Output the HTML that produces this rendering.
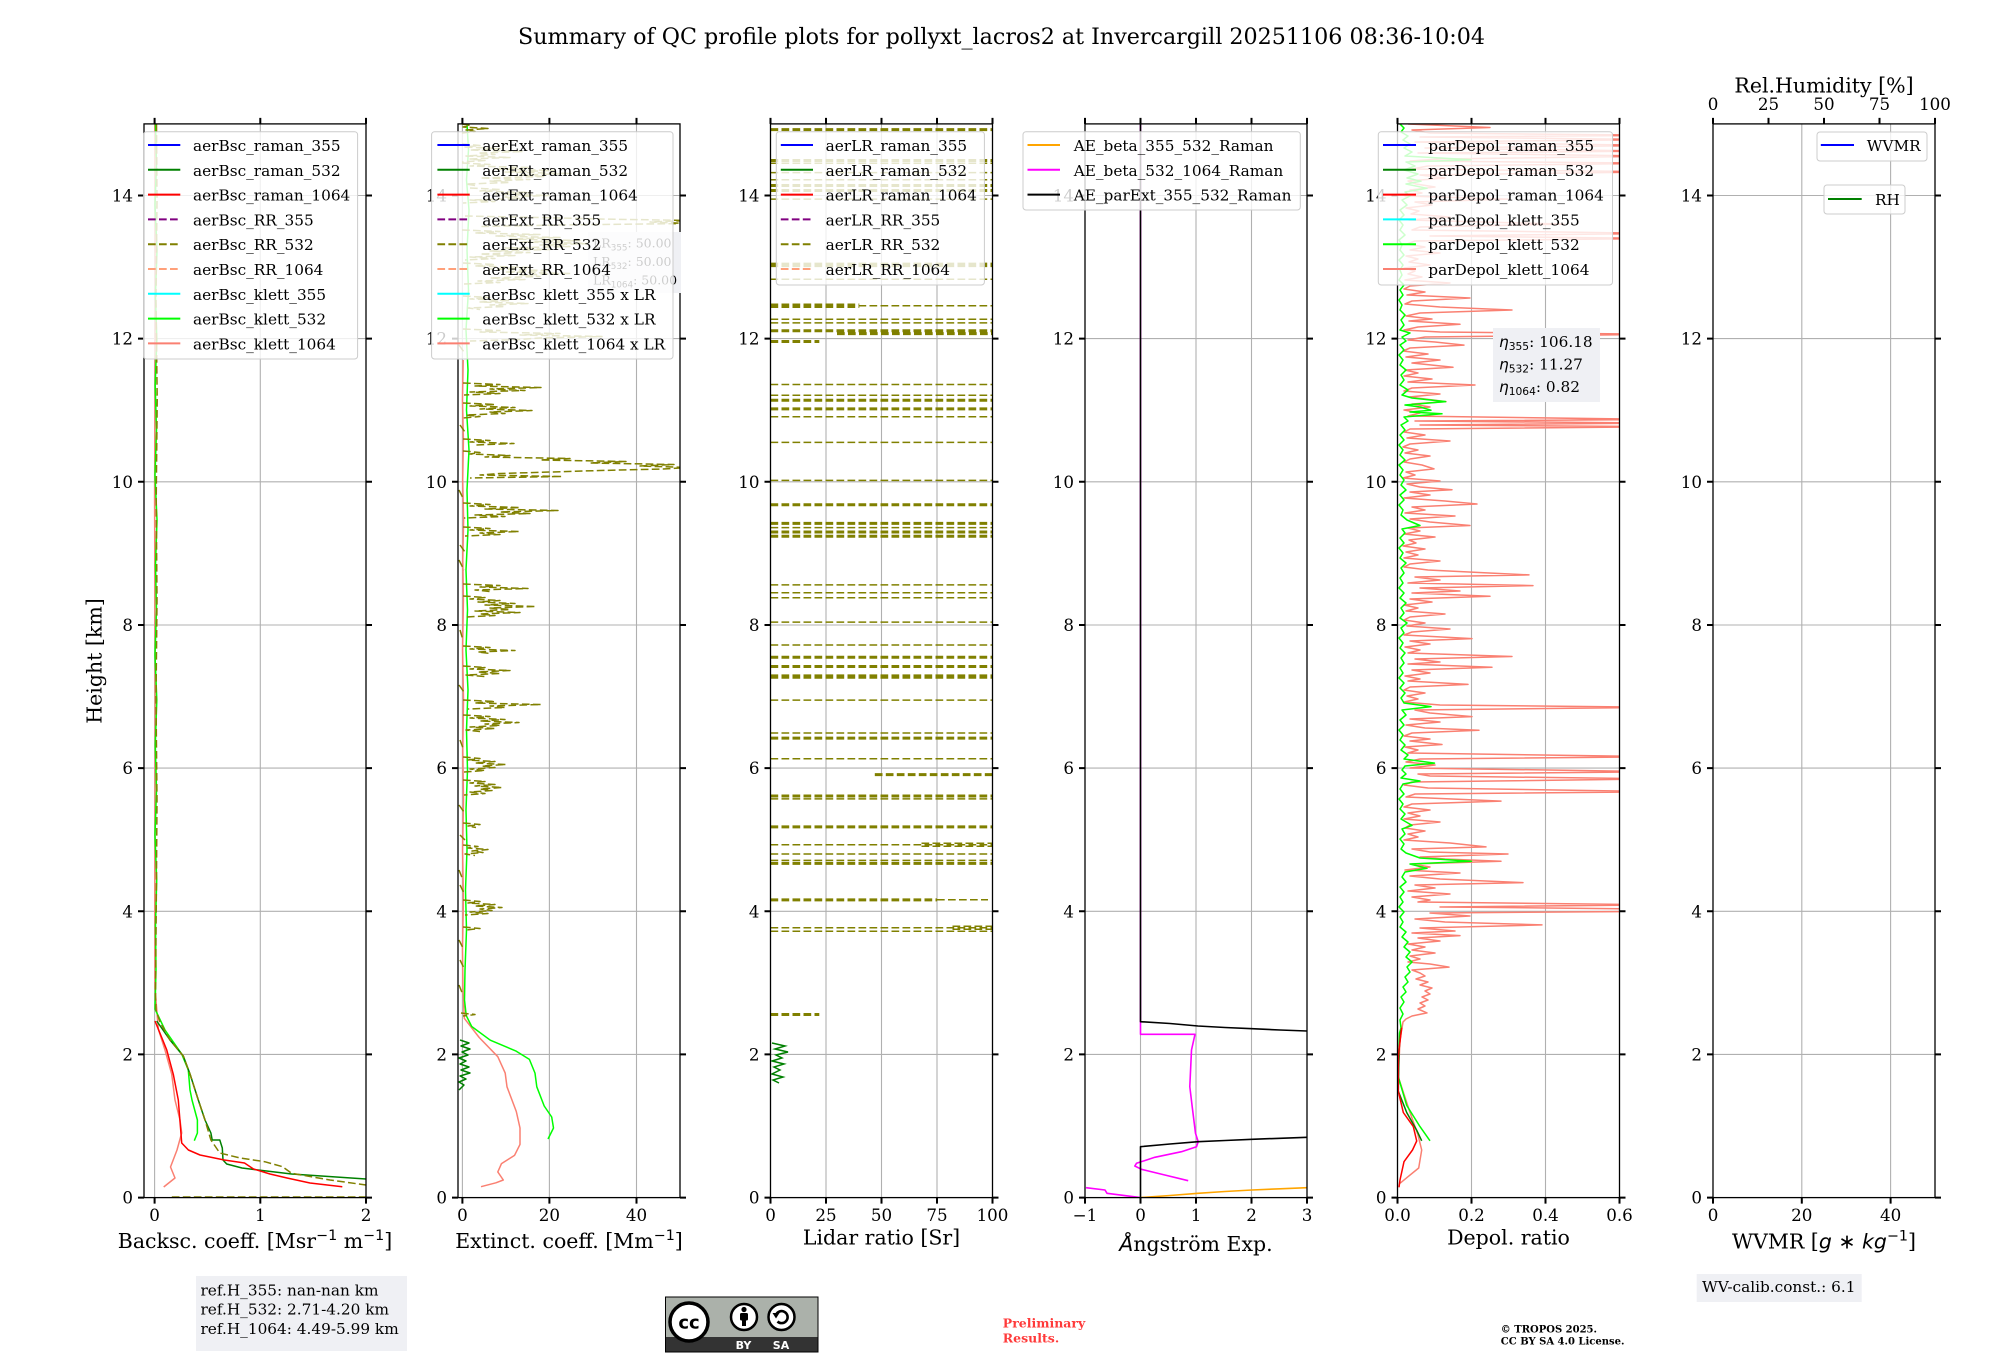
<!DOCTYPE html>
<html><head><meta charset="utf-8">
<style>
html,body{margin:0;padding:0;background:#fff;}
svg{display:block;}
text{font-family:"DejaVu Serif","Liberation Serif",serif;fill:#000;}
.sans{font-family:"DejaVu Sans","Liberation Sans",sans-serif;}
</style></head>
<body>
<svg xmlns="http://www.w3.org/2000/svg" width="2000" height="1360" viewBox="0 0 2000 1360">
<rect width="2000" height="1360" fill="#fff"/>
<defs>
<clipPath id="c1"><rect x="144" y="123.9" width="222" height="1073.7"/></clipPath>
<clipPath id="c2"><rect x="458" y="123.9" width="222" height="1073.7"/></clipPath>
<clipPath id="c3"><rect x="770.5" y="123.9" width="222" height="1073.7"/></clipPath>
<clipPath id="c4"><rect x="1085" y="123.9" width="222" height="1073.7"/></clipPath>
<clipPath id="c5"><rect x="1397.5" y="123.9" width="222" height="1073.7"/></clipPath>
<clipPath id="c6"><rect x="1713" y="123.9" width="222" height="1073.7"/></clipPath>
</defs>

<text x="518" y="44" font-size="22" textLength="967" lengthAdjust="spacingAndGlyphs">Summary of QC profile plots for pollyxt_lacros2 at Invercargill 20251106 08:36-10:04</text>

<!-- gridlines -->
<g stroke="#b0b0b0" stroke-width="1.1" fill="none">
<path d="M144,1054.4h222M144,911.3h222M144,768.1h222M144,625h222M144,481.8h222M144,338.6h222M144,195.5h222
M458,1054.4h222M458,911.3h222M458,768.1h222M458,625h222M458,481.8h222M458,338.6h222M458,195.5h222
M770.5,1054.4h222M770.5,911.3h222M770.5,768.1h222M770.5,625h222M770.5,481.8h222M770.5,338.6h222M770.5,195.5h222
M1085,1054.4h222M1085,911.3h222M1085,768.1h222M1085,625h222M1085,481.8h222M1085,338.6h222M1085,195.5h222
M1397.5,1054.4h222M1397.5,911.3h222M1397.5,768.1h222M1397.5,625h222M1397.5,481.8h222M1397.5,338.6h222M1397.5,195.5h222
M1713,1054.4h222M1713,911.3h222M1713,768.1h222M1713,625h222M1713,481.8h222M1713,338.6h222M1713,195.5h222"/>
<path d="M154.6,123.9V1197.6M260.3,123.9V1197.6"/>
<path d="M462.4,123.9V1197.6M549.4,123.9V1197.6M636.5,123.9V1197.6"/>
<path d="M826,123.9V1197.6M881.5,123.9V1197.6M937,123.9V1197.6"/>
<path d="M1140.5,123.9V1197.6M1196,123.9V1197.6M1251.5,123.9V1197.6"/>
<path d="M1471.5,123.9V1197.6M1545.5,123.9V1197.6"/>
<path d="M1801.8,123.9V1197.6M1890.6,123.9V1197.6"/>
</g>

<!-- panel 1 data -->
<g clip-path="url(#c1)" fill="none" stroke-width="1.5" stroke-linejoin="round">
<path d="M154.8,124 L155.3,300 L154.6,500 L155.2,700 L154.8,900 L155,988 L158.3,1029 L165,1050 L171.7,1074 L175,1100 L180,1120 L181.7,1133 L177,1150 L170.5,1167 L175,1178 L163.7,1187" stroke="#fa8072"/>
<path d="M155.5,124 L156.5,165 L155,205 L157,250 L155.5,295 L156.8,340 L155.2,385 L156.5,430 L155,475 L157,520 L155.5,565 L156.5,610 L155,655 L156.8,700 L155.3,745 L156.5,790 L155,835 L156.7,880 L155.5,925 L156,970 L155,1009 L165,1030 L181.7,1054 L188.3,1070 L190,1090 L192,1100 L197.4,1120 L197.4,1133 L194.3,1140.7" stroke="#00ff00"/>
<path d="M156.7,1021 L170,1040 L183.3,1056 L190,1074 L198.3,1100 L205,1120 L210.9,1133 L212.2,1140 L219.8,1140 L222.3,1148 L223,1160 L226.7,1164 L242,1168 L291.6,1174 L366,1179" stroke="#008000"/>
<path d="M156.5,124 L157,200 L156,300 L157.2,400 L156.2,500 L157,600 L156,700 L157,800 L156.3,900 L155.5,995 L156,1010 L160,1022 L170,1040 L183.3,1056 L190,1074 L198.3,1100 L205,1120 L210.9,1140 L219.8,1153 L240,1158 L264.7,1161.7 L282.6,1166.7 L291.6,1173.3 L330,1180 L366,1185" stroke="#808000" stroke-dasharray="7.7 3.3"/>
<path d="M171.8,1197 L366,1197" stroke="#808000" stroke-dasharray="7.7 3.3"/>
<path d="M155,1021 L166.7,1049.8 L173.3,1074.3 L178.3,1100 L180.7,1130 L181.7,1143 L188.4,1150 L200,1155 L224.3,1160 L244.5,1163 L253.5,1169 L270,1174 L287,1178 L310,1183 L342.3,1186.7" stroke="#ff0000"/>
</g>

<!-- panel 2 data -->
<g clip-path="url(#c2)" fill="none" stroke-width="1.5" stroke-linejoin="round">
<path d="M463.2,360 L462.5,400 L463.4,440 L462.7,480 L463.6,520 L462.8,560 L463.4,600 L462.6,650 L463.5,700 L462.8,750 L463.5,800 L462.6,850 L463.4,900 L462.5,950 L463,990 L464.3,1018.3 L479.2,1037.5 L497.8,1056.7 L505.2,1073.1 L507,1086.8 L516.3,1111.5 L520,1128 L520,1144.4 L514.5,1155.4 L501.5,1163.6 L497.8,1171.9 L503.3,1180 L495.9,1182.8 L481,1186.7" stroke="#fa8072"/>
<path d="M467,124 L468.5,150 L466.5,180 L469,210 L467,250 L468.5,290 L466,330 L468,370 L466.5,410 L469,450 L467,490 L468,530 L466,570 L467.5,610 L466,650 L468,690 L466.5,730 L467.5,770 L466,810 L467,850 L465.5,890 L466.5,930 L465,970 L464.5,1000 L466.2,1015.5 L471.7,1026.5 L490.3,1040.2 L516.3,1051.2 L529.4,1059.4 L535,1073.1 L536.8,1086.8 L544.2,1106 L551.7,1117 L553.5,1128 L548,1139" stroke="#00ff00"/>
<path d="M460,1040 L469,1043 L461,1046 L470,1049 L462,1052 L468,1055 L459,1058 L466,1061 L460,1064 L469,1067 L461,1070 L470,1073 L460,1076 L466,1079 L459,1082 L464,1085 L459,1090" stroke="#008000"/>
<path stroke="#808000" stroke-dasharray="7.7 3.3" d="
M462,124 L470,125.5 L463,127 L488,128.5 L466,130 L475,131.5 L462,133
M462,144 L480,145.5 L465,147 L500,148.5 L470,150 L523,151.5 L478,153 L495,154.5 L466,156 L510,157.5 L470,159 L485,160.5 L462,162
M462,163 L490,164.5 L470,166 L530,167.5 L495,169 L555,170.5 L505,172 L571,173.5 L520,175 L545,176.5 L480,178 L530,179.5 L490,181 L510,182.5 L466,184 L475,185.5
M470,188 L500,189.5 L480,191 L530,192.5 L495,194 L549,195.5 L505,197 L520,198.5 L470,200 L495,201.5 L463,203
M465,216 L540,217.5 L600,219 L690,220.5 L650,222 L690,223.5 L560,225 L480,226.5
M462,230 L500,231.5 L475,233 L540,234.5 L495,236 L560,237.5 L510,239 L580,240.5 L520,242 L593,243.5 L540,245 L570,246.5 L505,248 L550,249.5 L490,251 L530,252.5 L480,254 L515,255.5 L470,257 L495,258.5 L465,260
M463,263 L495,264.5 L475,266 L530,267.5 L490,269 L550,270.5 L505,272 L571,273.5 L520,275 L540,276.5 L490,278 L525,279.5 L478,281 L500,282.5 L464,284
M463,296 L490,297.5 L470,299 L510,300.5 L480,302 L528,303.5 L490,305 L505,306.5 L468,308 L480,309.5
M463,329 L500,330.5 L480,332 L560,333.5 L520,335 L602,336.5 L540,338 L520,339.5 L470,341
M463,383 L500,384.5 L475,386 L541,387.5 L490,389 L525,390.5 L470,392 L500,393.5 L464,395
M463,403 L495,404.5 L470,406 L515,407.5 L480,409 L532,410.5 L490,412 L505,413.5 L466,415 L480,416.5 L463,418
M463,439 L490,440.5 L470,442 L514,443.5 L475,445
M463,451 L480,452.5 L470,454 L510,455.5 L485,457 L570,458.5 L540,460 L626,461.5 L590,463 L674,464.5 L640,466 L690,467.5 L663,469 L600,470.5 L551,472 L500,473.5 L480,475 L562,476.5 L470,478
M463,503 L490,504.5 L470,506 L520,507.5 L485,509 L558,510.5 L500,512 L530,513.5 L475,515 L505,516.5 L464,518
M463,527 L490,528.5 L470,530 L519,531.5 L480,533 L500,534.5 L465,536
M463,584 L500,585.5 L480,587 L528,588.5 L475,590 L490,591.5
M463,596 L485,597.5 L470,599 L500,600.5 L478,602 L515,603.5 L485,605 L536,606.5 L490,608 L510,609.5 L475,611 L520,612.5 L480,614 L495,615.5 L466,617
M463,646 L490,647.5 L470,649 L515,650.5 L478,652 L490,653.5
M463,666 L485,667.5 L470,669 L510,670.5 L478,672 L500,673.5 L466,675 L485,676.5
M463,700 L495,701.5 L475,703 L541,704.5 L490,706 L505,707.5 L468,709
M463,715 L490,716.5 L470,718 L505,719.5 L480,721 L519,722.5 L485,724 L500,725.5 L470,727 L495,728.5 L466,730 L480,731.5
M463,757 L480,758.5 L468,760 L495,761.5 L475,763 L506,764.5 L482,766 L495,767.5 L470,769 L485,770.5 L464,772
M463,780 L485,781.5 L470,783 L495,784.5 L475,786 L502,787.5 L480,789 L492,790.5 L470,792 L485,793.5 L464,795
M463,823 L480,824.5 L468,826 L476,827.5
M463,845 L478,846.5 L468,848 L488,849.5 L472,851 L483,852.5 L465,854 L475,855.5
M463,900 L480,901.5 L468,903 L495,904.5 L475,906 L502,907.5 L480,909 L492,910.5 L470,912 L488,913.5 L465,915
M463,927 L480,928.5 L466,930
M461,1013 L475,1014.5 L463,1016
M459,345 L464,352 M460,425 L465,432 M459,490 L463,498 M460,545 L465,552 M459,560 L464,570 M460,630 L463,640 M459,685 L464,692 M460,740 L463,748 M459,805 L464,812 M460,835 L465,840 M459,870 L463,880 M460,885 L464,893 M459,940 L463,948 M460,960 L464,968 M459,985 L463,995"/>
</g>

<!-- panel 3 data -->
<g clip-path="url(#c3)" fill="none" stroke-width="1.5">
<path d="M772,1043 L785,1046 L775,1049 L788,1052 L776,1055 L782,1058 L772,1061 L784,1064 L774,1067 L780,1070 L772,1074 L783,1077 L773,1080 L779,1083" stroke="#008000"/>
<path stroke="#808000" stroke-dasharray="7.7 3.3" d="
M770.5,128.9H992.5M770.5,130.4H992.5M770.5,159.7H992.5M770.5,161.2H992.5M770.5,163.3H992.5M770.5,172.6H992.5M770.5,179.8H992.5M770.5,184.8H992.5M770.5,186.3H992.5M770.5,189.8H992.5M770.5,191.3H992.5M770.5,199.1H992.5
M770.5,263.4H992.5M770.5,264.9H992.5M770.5,266.4H992.5M770.5,279.3H992.5M770.5,305.7H992.5M770.5,319.3H992.5M770.5,322.9H992.5M770.5,330H992.5M770.5,331.5H992.5
M770.5,384.5H992.5M770.5,395.2H992.5M770.5,399.5H992.5M770.5,401H992.5M770.5,408.1H992.5M770.5,409.6H992.5M770.5,416.7H992.5M770.5,442.4H992.5M770.5,480.4H992.5
M770.5,504H992.5M770.5,505.5H992.5M770.5,522.6H992.5M770.5,524.1H992.5M770.5,527.6H992.5M770.5,531.2H992.5M770.5,532.7H992.5M770.5,535.5H992.5M770.5,537H992.5
M770.5,584.9H992.5M770.5,592.7H992.5M770.5,597.8H992.5M770.5,622.1H992.5M770.5,645H992.5M770.5,656.5H992.5M770.5,658H992.5M770.5,665.8H992.5M770.5,667.3H992.5M770.5,675.1H992.5M770.5,676.6H992.5M770.5,678H992.5
M770.5,700.1H992.5M770.5,733H992.5M770.5,737.4H992.5M770.5,738.9H992.5M770.5,758.8H992.5M770.5,795.3H992.5M770.5,796.8H992.5M770.5,798.9H992.5M770.5,826.1H992.5M770.5,827.6H992.5
M770.5,844.7H992.5M770.5,854H992.5M770.5,860.4H992.5M770.5,862.6H992.5M770.5,864.1H992.5M770.5,927.8H992.5M770.5,931.3H992.5
M770.5,304.2H859.3M770.5,307.2H859.3M837,332.9H992.5M837,334.4H992.5M770.5,340.8H819.3M770.5,342.3H819.3
M874.8,773.9H992.5M874.8,775.4H992.5M921.5,843.2H992.5M921.5,846.2H992.5
M770.5,899.1H937M770.5,900.6H937M937,899.8H988M952.5,926.3H992.5M952.5,929.3H992.5
M770.5,1013.7H819.3M770.5,1015.2H819.3"/>
</g>

<!-- panel 4 data -->
<g clip-path="url(#c4)" fill="none" stroke-width="1.6" stroke-linejoin="round">
<path d="M1140.5,124 L1140.5,1034.3 L1195,1034.3 L1191.5,1050 L1189.8,1086.7 L1192.2,1106.7 L1195.5,1133.3 L1198.2,1141.7 L1196.5,1146.7 L1181.5,1151.7 L1154.8,1157.3 L1136.5,1163.3 L1134.8,1166 L1141.5,1169.3 L1164.8,1175 L1188.2,1180.7" stroke="#ff00ff"/>
<path d="M1086,1187.7 L1105,1190 L1107,1193.3 L1140.5,1197.6" stroke="#ff00ff"/>
<path d="M1140.5,1197.6 L1170,1195.5 L1198,1193.3 L1225,1191.5 L1252,1190 L1280,1188.8 L1307,1187.7" stroke="#ffa500"/>
<path d="M1140.5,124 L1140.5,1021.7 L1170,1023.5 L1198,1026 L1225,1027.5 L1252,1028.7 L1280,1030 L1307,1031" stroke="#000"/>
<path d="M1140.5,1197.6 L1140.5,1146.7 L1170,1144 L1198,1141.7 L1225,1140.5 L1252,1139.3 L1307,1137.3" stroke="#000"/>
</g>

<!-- panel 5 data -->
<g clip-path="url(#c5)" fill="none" stroke-width="1.5" stroke-linejoin="round">
<path stroke="#fa8072" d="M1408,124 L1490,127.5 L1412,130 L1430,133 L1660,135.3 L1420,137 L1660,139.6 L1415,142 L1660,145.4 L1425,148 L1660,151.1 L1418,153 L1660,156.1 L1440,159 L1410,161 L1660,163.3 L1428,166 L1412,169 L1660,171.9 L1420,175 L1445,178 L1408,181 L1416,184 L1435,187 L1410,190 L1422,193 L1405,196 L1508,199.1 L1415,202 L1432,205 L1406,208 L1419,211 L1411,214 L1450,217 L1409,220 L1564,224.1 L1420,227 L1412,230 L1660,233.4 L1430,236 L1660,238.4 L1415,241 L1407,244 L1425,247 L1410,250 L1440,253 L1406,256 L1418,259 L1409,262 L1430,265 L1404,268 L1415,271 L1408,274 L1422,277 L1405,280 L1450,283 L1410,286 L1404,289 L1425,292 L1407,295 L1470,298 L1412,301 L1405,304 L1440,307 L1512,310 L1420,313 L1406,316 L1432,319 L1409,321 L1460,324.3 L1418,327 L1404,330 L1440,332 L1660,334.3 L1425,337 L1408,340 L1435,342 L1464,345.1 L1410,348 L1403,351 L1428,354 L1406,357 L1440,360 L1412,363 L1453,367.3 L1405,370 L1418,373 L1404,376 L1432,379 L1408,382 L1475,385 L1412,388 L1404,391 L1440,394 L1409,397 L1446,401.6 L1412,404 L1430,407 L1404,410 L1420,413 L1408,416 L1660,419.5 L1415,421 L1660,423.1 L1420,425 L1660,426.7 L1410,429 L1404,432 L1425,435 L1407,438 L1450,441 L1410,444 L1403,447 L1418,450 L1405,453 L1430,456 L1410,459 L1404,462 L1422,465 L1434,468.9 L1406,472 L1415,475 L1403,478 L1440,481 L1407,484 L1420,487 L1452,489.7 L1410,492 L1430,495 L1404,498 L1445,501 L1477,504 L1412,507 L1425,510 L1405,513 L1455,516 L1410,519 L1430,522 L1470,525.5 L1408,528 L1420,531 L1404,534 L1435,537 L1409,540 L1416,543 L1403,546 L1425,549 L1406,552 L1418,555 L1404,558 L1440,561 L1410,564 L1404,567 L1428,570 L1529,574.9 L1415,577 L1440,580 L1408,583 L1533,585.6 L1420,588 L1460,591 L1412,593 L1490,596.3 L1410,599 L1432,602 L1404,605 L1418,608 L1406,611 L1445,614 L1410,617 L1404,620 L1425,623 L1407,626 L1450,629 L1412,632 L1404,635 L1472,638.6 L1410,641 L1430,644 L1405,647 L1420,650 L1408,653 L1512,656.5 L1415,659 L1440,662 L1408,664 L1492,667.2 L1412,670 L1430,673 L1405,676 L1420,679 L1408,681 L1468,684.4 L1410,687 L1404,690 L1425,693 L1407,696 L1418,699 L1404,702 L1440,705 L1660,707.3 L1415,710 L1430,713 L1472,716.6 L1410,719 L1440,722 L1406,725 L1425,728 L1479,730.2 L1412,733 L1404,736 L1430,739 L1410,741 L1442,744.5 L1405,747 L1418,750 L1408,753 L1660,756.7 L1420,759 L1406,762 L1435,765 L1410,768 L1660,771.7 L1418,774 L1430,776 L1660,778.9 L1412,782 L1404,785 L1428,788 L1660,791.7 L1415,794 L1406,797 L1501,801.1 L1412,804 L1404,807 L1430,810 L1408,813 L1420,816 L1404,819 L1440,822 L1410,825 L1405,828 L1425,831 L1408,834 L1418,837 L1404,840 L1450,843 L1486,846.9 L1412,849 L1430,852 L1508,854 L1420,857 L1445,859 L1501,861.2 L1412,864 L1430,867 L1405,870 L1460,873 L1410,876 L1440,879 L1523,882.6 L1415,885 L1435,888 L1408,891 L1450,894 L1412,897 L1430,900 L1418,902 L1660,904.8 L1440,907 L1660,909.1 L1660,911.3 L1430,913 L1470,916 L1415,919 L1445,922 L1542,924.9 L1420,928 L1455,931 L1412,933 L1460,935.6 L1418,938 L1440,941 L1408,944 L1425,947 L1412,950 L1435,953 L1410,956 L1420,959 L1408,962 L1430,964 L1449,967.1 L1412,970 L1420,973 L1425,976 L1416,979 L1428,982 L1420,985 L1432,988 L1425,991 L1430,994 L1422,997 L1428,1000 L1420,1003 L1425,1006 L1418,1009 L1427,1012.9 L1412,1016 L1406,1019 L1403,1022 L1400,1040 L1398.3,1077 L1410,1112.5 L1418,1135 L1421.7,1150 L1418.7,1168 L1408,1176.7 L1400,1183.3"/>
<path stroke="#00ff00" d="M1400,124 L1404,128 L1401,132 L1408,136 L1403,140 L1410,144 L1404,148 L1412,152 L1405,156 L1471,159.7 L1406,162 L1415,166 L1404,170 L1418,174 L1407,178 L1421,181.2 L1406,184 L1427,188.3 L1405,192 L1410,196 L1402,200 L1407,205 L1400,210 L1404,215 L1399,220 L1403,225 L1400,230 L1405,235 L1399,240 L1402,245 L1400,250 L1404,255 L1399,260 L1403,265 L1400,270 L1402,275 L1399,280 L1404,285 L1400,290 L1403,295 L1399,300 L1402,305 L1400,310 L1405,315 L1401,320 L1404,325 L1400,330 L1410,333 L1402,337 L1406,341 L1400,345 L1404,350 L1399,355 L1403,360 L1400,365 L1406,370 L1401,375 L1404,380 L1400,385 L1408,390 L1402,395 L1412,398 L1445.6,401.6 L1405,405 L1420,407 L1431,410.2 L1410,412 L1442,413.8 L1404,417 L1408,421 L1401,425 L1405,430 L1400,435 L1404,440 L1399,445 L1403,450 L1400,455 L1405,460 L1399,465 L1403,470 L1400,475 L1404,480 L1401,485 L1406,490 L1400,495 L1404,500 L1399,505 L1403,510 L1401,515 L1407,520 L1420,525.5 L1402,529 L1405,533 L1400,538 L1404,543 L1399,548 L1403,553 L1400,558 L1406,563 L1401,568 L1404,573 L1400,578 L1403,583 L1399,588 L1404,593 L1400,598 L1406,603 L1401,608 L1404,613 L1400,618 L1407,623 L1401,628 L1404,633 L1399,638 L1403,643 L1400,648 L1405,653 L1401,658 L1404,663 L1400,668 L1403,673 L1399,678 L1404,683 L1400,688 L1405,693 L1401,698 L1404,703 L1431,706.6 L1402,710 L1406,715 L1400,720 L1404,725 L1399,730 L1403,735 L1400,740 L1405,745 L1401,750 L1408,755 L1404,759 L1434.5,763.1 L1405,766 L1402,770 L1406,774 L1401,778 L1420,781 L1403,784 L1400,789 L1404,794 L1399,799 L1403,804 L1400,809 L1405,814 L1401,819 L1412,825.4 L1402,829 L1405,834 L1400,839 L1404,844 L1401,849 L1406,853 L1420,858 L1471.5,861.2 L1410,864 L1427,868.3 L1405,872 L1402,877 L1406,882 L1400,887 L1404,892 L1400,897 L1403,902 L1399,907 L1404,912 L1400,917 L1403,922 L1400,927 L1406,932 L1402,937 L1408,942 L1404,947 L1410,952 L1406,957 L1412,962 L1407,967 L1410,972 L1405,977 L1408,982 L1403,987 L1406,992 L1401,997 L1404,1002 L1400,1008 L1403,1014 L1400,1020 L1401,1028 L1399.5,1033 L1398.3,1077 L1406.7,1105.4 L1420,1126.6 L1430,1140.8"/>
<path d="M1401,1030 L1399,1050 L1398.3,1091.2 L1406.7,1112.5 L1416.7,1130.2 L1421.7,1140.8" stroke="#008000"/>
<path d="M1401.7,1027.6 L1398.3,1055.9 L1398.3,1091.2 L1403.3,1112.5 L1413.3,1126.6 L1416.7,1141 L1412.5,1150 L1404,1161.7 L1400,1180 L1399,1187.3" stroke="#ff0000"/>
</g>

<!-- spines -->
<g fill="none" stroke="#000" stroke-width="1.3">
<rect x="144" y="123.9" width="222" height="1073.7"/>
<rect x="458" y="123.9" width="222" height="1073.7"/>
<rect x="770.5" y="123.9" width="222" height="1073.7"/>
<rect x="1085" y="123.9" width="222" height="1073.7"/>
<rect x="1397.5" y="123.9" width="222" height="1073.7"/>
<rect x="1713" y="123.9" width="222" height="1073.7"/>
</g>
<!-- ticks -->
<g stroke="#000" stroke-width="2" fill="none">
<path d="M138,1197.6h6M138,1054.4h6M138,911.3h6M138,768.1h6M138,625h6M138,481.8h6M138,338.6h6M138,195.5h6M366,1197.6h6M366,1054.4h6M366,911.3h6M366,768.1h6M366,625h6M366,481.8h6M366,338.6h6M366,195.5h6
M452,1197.6h6M452,1054.4h6M452,911.3h6M452,768.1h6M452,625h6M452,481.8h6M452,338.6h6M452,195.5h6M680,1197.6h6M680,1054.4h6M680,911.3h6M680,768.1h6M680,625h6M680,481.8h6M680,338.6h6M680,195.5h6
M764.5,1197.6h6M764.5,1054.4h6M764.5,911.3h6M764.5,768.1h6M764.5,625h6M764.5,481.8h6M764.5,338.6h6M764.5,195.5h6M992.5,1197.6h6M992.5,1054.4h6M992.5,911.3h6M992.5,768.1h6M992.5,625h6M992.5,481.8h6M992.5,338.6h6M992.5,195.5h6
M1079,1197.6h6M1079,1054.4h6M1079,911.3h6M1079,768.1h6M1079,625h6M1079,481.8h6M1079,338.6h6M1079,195.5h6M1307,1197.6h6M1307,1054.4h6M1307,911.3h6M1307,768.1h6M1307,625h6M1307,481.8h6M1307,338.6h6M1307,195.5h6
M1391.5,1197.6h6M1391.5,1054.4h6M1391.5,911.3h6M1391.5,768.1h6M1391.5,625h6M1391.5,481.8h6M1391.5,338.6h6M1391.5,195.5h6M1619.5,1197.6h6M1619.5,1054.4h6M1619.5,911.3h6M1619.5,768.1h6M1619.5,625h6M1619.5,481.8h6M1619.5,338.6h6M1619.5,195.5h6
M1707,1197.6h6M1707,1054.4h6M1707,911.3h6M1707,768.1h6M1707,625h6M1707,481.8h6M1707,338.6h6M1707,195.5h6M1935,1197.6h6M1935,1054.4h6M1935,911.3h6M1935,768.1h6M1935,625h6M1935,481.8h6M1935,338.6h6M1935,195.5h6"/>
<path d="M154.6,1197.6v6M260.3,1197.6v6M366,1197.6v6M154.6,123.9v-6M260.3,123.9v-6M366,123.9v-6"/>
<path d="M462.4,1197.6v6M549.4,1197.6v6M636.5,1197.6v6M462.4,123.9v-6M549.4,123.9v-6M636.5,123.9v-6"/>
<path d="M770.5,1197.6v6M826,1197.6v6M881.5,1197.6v6M937,1197.6v6M992.5,1197.6v6M770.5,123.9v-6M826,123.9v-6M881.5,123.9v-6M937,123.9v-6M992.5,123.9v-6"/>
<path d="M1085,1197.6v6M1140.5,1197.6v6M1196,1197.6v6M1251.5,1197.6v6M1307,1197.6v6M1085,123.9v-6M1140.5,123.9v-6M1196,123.9v-6M1251.5,123.9v-6M1307,123.9v-6"/>
<path d="M1397.5,1197.6v6M1471.5,1197.6v6M1545.5,1197.6v6M1619.5,1197.6v6M1397.5,123.9v-6M1471.5,123.9v-6M1545.5,123.9v-6M1619.5,123.9v-6"/>
<path d="M1713,1197.6v6M1801.8,1197.6v6M1890.6,1197.6v6M1713,123.9v-6M1768.5,123.9v-6M1824,123.9v-6M1879.5,123.9v-6M1935,123.9v-6"/>
</g>

<!-- y tick labels -->
<g font-size="16.7" text-anchor="end">
<text x="133" y="1203.7">0</text><text x="133" y="1060.5">2</text><text x="133" y="917.4">4</text><text x="133" y="774.2">6</text><text x="133" y="631.1">8</text><text x="133" y="487.9">10</text><text x="133" y="344.7">12</text><text x="133" y="201.6">14</text>
<text x="447" y="1203.7">0</text><text x="447" y="1060.5">2</text><text x="447" y="917.4">4</text><text x="447" y="774.2">6</text><text x="447" y="631.1">8</text><text x="447" y="487.9">10</text><text x="447" y="344.7">12</text><text x="447" y="201.6">14</text>
<text x="759.5" y="1203.7">0</text><text x="759.5" y="1060.5">2</text><text x="759.5" y="917.4">4</text><text x="759.5" y="774.2">6</text><text x="759.5" y="631.1">8</text><text x="759.5" y="487.9">10</text><text x="759.5" y="344.7">12</text><text x="759.5" y="201.6">14</text>
<text x="1074" y="1203.7">0</text><text x="1074" y="1060.5">2</text><text x="1074" y="917.4">4</text><text x="1074" y="774.2">6</text><text x="1074" y="631.1">8</text><text x="1074" y="487.9">10</text><text x="1074" y="344.7">12</text><text x="1074" y="201.6">14</text>
<text x="1386.5" y="1203.7">0</text><text x="1386.5" y="1060.5">2</text><text x="1386.5" y="917.4">4</text><text x="1386.5" y="774.2">6</text><text x="1386.5" y="631.1">8</text><text x="1386.5" y="487.9">10</text><text x="1386.5" y="344.7">12</text><text x="1386.5" y="201.6">14</text>
<text x="1702" y="1203.7">0</text><text x="1702" y="1060.5">2</text><text x="1702" y="917.4">4</text><text x="1702" y="774.2">6</text><text x="1702" y="631.1">8</text><text x="1702" y="487.9">10</text><text x="1702" y="344.7">12</text><text x="1702" y="201.6">14</text>
</g>
<!-- x tick labels -->
<g font-size="16.7" text-anchor="middle">
<text x="154.6" y="1220.8">0</text><text x="260.3" y="1220.8">1</text><text x="366" y="1220.8">2</text>
<text x="462.4" y="1220.8">0</text><text x="549.4" y="1220.8">20</text><text x="636.5" y="1220.8">40</text>
<text x="770.5" y="1220.8">0</text><text x="826" y="1220.8">25</text><text x="881.5" y="1220.8">50</text><text x="937" y="1220.8">75</text><text x="992.5" y="1220.8">100</text>
<text x="1085" y="1220.8">−1</text><text x="1140.5" y="1220.8">0</text><text x="1196" y="1220.8">1</text><text x="1251.5" y="1220.8">2</text><text x="1307" y="1220.8">3</text>
<text x="1397.5" y="1220.8">0.0</text><text x="1471.5" y="1220.8">0.2</text><text x="1545.5" y="1220.8">0.4</text><text x="1619.5" y="1220.8">0.6</text>
<text x="1713" y="1220.8">0</text><text x="1801.8" y="1220.8">20</text><text x="1890.6" y="1220.8">40</text>
<text x="1713" y="110">0</text><text x="1768.5" y="110">25</text><text x="1824" y="110">50</text><text x="1879.5" y="110">75</text><text x="1935" y="110">100</text>
</g>

<!-- axis labels -->
<g font-size="20.5" text-anchor="middle">
<text transform="translate(101.5,661) rotate(-90)">Height [km]</text>
<text x="255" y="1248">Backsc. coeff. [Msr<tspan class="sans" font-size="14.3" dy="-8">−1</tspan><tspan dy="8"> m</tspan><tspan class="sans" font-size="14.3" dy="-8">−1</tspan><tspan dy="8">]</tspan></text>
<text x="569" y="1248">Extinct. coeff. [Mm<tspan class="sans" font-size="14.3" dy="-8">−1</tspan><tspan dy="8">]</tspan></text>
<text x="881.5" y="1244.3">Lidar ratio [Sr]</text>
<text x="1196" y="1251"><tspan class="sans" font-style="italic">Å</tspan>ngström Exp.</text>
<text x="1508.5" y="1244.3">Depol. ratio</text>
<text x="1824" y="1248.5">WVMR [<tspan class="sans" font-style="italic">g</tspan><tspan class="sans"> ∗ </tspan><tspan class="sans" font-style="italic">kg</tspan><tspan class="sans" font-size="14.3" dy="-8">−1</tspan><tspan dy="8">]</tspan></text>
<text x="1824" y="92.7">Rel.Humidity [%]</text>
</g>

<!-- LR box in panel 2 (behind legend) -->
<rect x="588" y="232" width="93" height="61" fill="#eff0f4"/>
<g font-size="12.5">
<text x="593" y="247.5">LR<tspan class="sans" font-size="8.8" dy="3">355</tspan><tspan dy="-3">: 50.00</tspan></text>
<text x="593" y="266">LR<tspan class="sans" font-size="8.8" dy="3">532</tspan><tspan dy="-3">: 50.00</tspan></text>
<text x="593" y="284.5">LR<tspan class="sans" font-size="8.8" dy="3">1064</tspan><tspan dy="-3">: 50.00</tspan></text>
</g>

<!-- legends -->
<g font-size="15.3">
<rect x="143.6" y="131.7" width="214" height="227.3" rx="3" fill="#fff" fill-opacity="0.8" stroke="#cccccc" stroke-width="1"/>
<g stroke-width="2" fill="none">
<path d="M148,145H180.3" stroke="#0000ff"/>
<path d="M148,169.8H180.3" stroke="#008000"/>
<path d="M148,194.6H180.3" stroke="#ff0000"/>
<path d="M148,219.4H180.3" stroke="#800080" stroke-dasharray="7.7 3.3"/>
<path d="M148,244.2H180.3" stroke="#808000" stroke-dasharray="7.7 3.3"/>
<path d="M148,269H180.3" stroke="#ffa07a" stroke-dasharray="7.7 3.3"/>
<path d="M148,293.8H180.3" stroke="#00ffff"/>
<path d="M148,318.6H180.3" stroke="#00ff00"/>
<path d="M148,343.4H180.3" stroke="#fa8072"/>
</g>
<text x="193" y="151">aerBsc_raman_355</text>
<text x="193" y="175.8">aerBsc_raman_532</text>
<text x="193" y="200.6">aerBsc_raman_1064</text>
<text x="193" y="225.4">aerBsc_RR_355</text>
<text x="193" y="250.2">aerBsc_RR_532</text>
<text x="193" y="275">aerBsc_RR_1064</text>
<text x="193" y="299.8">aerBsc_klett_355</text>
<text x="193" y="324.6">aerBsc_klett_532</text>
<text x="193" y="349.4">aerBsc_klett_1064</text>

<rect x="431.6" y="131.7" width="241.4" height="227.3" rx="3" fill="#fff" fill-opacity="0.8" stroke="#cccccc" stroke-width="1"/>
<g stroke-width="2" fill="none">
<path d="M437.4,145H469.7" stroke="#0000ff"/>
<path d="M437.4,169.8H469.7" stroke="#008000"/>
<path d="M437.4,194.6H469.7" stroke="#ff0000"/>
<path d="M437.4,219.4H469.7" stroke="#800080" stroke-dasharray="7.7 3.3"/>
<path d="M437.4,244.2H469.7" stroke="#808000" stroke-dasharray="7.7 3.3"/>
<path d="M437.4,269H469.7" stroke="#ffa07a" stroke-dasharray="7.7 3.3"/>
<path d="M437.4,293.8H469.7" stroke="#00ffff"/>
<path d="M437.4,318.6H469.7" stroke="#00ff00"/>
<path d="M437.4,343.4H469.7" stroke="#fa8072"/>
</g>
<text x="482.3" y="151">aerExt_raman_355</text>
<text x="482.3" y="175.8">aerExt_raman_532</text>
<text x="482.3" y="200.6">aerExt_raman_1064</text>
<text x="482.3" y="225.4">aerExt_RR_355</text>
<text x="482.3" y="250.2">aerExt_RR_532</text>
<text x="482.3" y="275">aerExt_RR_1064</text>
<text x="482.3" y="299.8">aerBsc_klett_355 x LR</text>
<text x="482.3" y="324.6">aerBsc_klett_532 x LR</text>
<text x="482.3" y="349.4">aerBsc_klett_1064 x LR</text>

<rect x="776.3" y="131.7" width="208.1" height="153.3" rx="3" fill="#fff" fill-opacity="0.8" stroke="#cccccc" stroke-width="1"/>
<g stroke-width="2" fill="none">
<path d="M780.8,145H813" stroke="#0000ff"/>
<path d="M780.8,169.8H813" stroke="#008000"/>
<path d="M780.8,194.6H813" stroke="#ff0000"/>
<path d="M780.8,219.4H813" stroke="#800080" stroke-dasharray="7.7 3.3"/>
<path d="M780.8,244.2H813" stroke="#808000" stroke-dasharray="7.7 3.3"/>
<path d="M780.8,269H813" stroke="#ffa07a" stroke-dasharray="7.7 3.3"/>
</g>
<text x="825.6" y="151">aerLR_raman_355</text>
<text x="825.6" y="175.8">aerLR_raman_532</text>
<text x="825.6" y="200.6">aerLR_raman_1064</text>
<text x="825.6" y="225.4">aerLR_RR_355</text>
<text x="825.6" y="250.2">aerLR_RR_532</text>
<text x="825.6" y="275">aerLR_RR_1064</text>

<rect x="1023" y="131.7" width="277.3" height="78.3" rx="3" fill="#fff" fill-opacity="0.8" stroke="#cccccc" stroke-width="1"/>
<g stroke-width="2" fill="none">
<path d="M1027.5,145H1060" stroke="#ffa500"/>
<path d="M1027.5,169.8H1060" stroke="#ff00ff"/>
<path d="M1027.5,194.6H1060" stroke="#000"/>
</g>
<text x="1073.7" y="151">AE_beta_355_532_Raman</text>
<text x="1073.7" y="175.8">AE_beta_532_1064_Raman</text>
<text x="1073.7" y="200.6">AE_parExt_355_532_Raman</text>

<rect x="1378.3" y="131.7" width="234.2" height="153.3" rx="3" fill="#fff" fill-opacity="0.8" stroke="#cccccc" stroke-width="1"/>
<g stroke-width="2" fill="none">
<path d="M1383,145H1416" stroke="#0000ff"/>
<path d="M1383,169.8H1416" stroke="#008000"/>
<path d="M1383,194.6H1416" stroke="#ff0000"/>
<path d="M1383,219.4H1416" stroke="#00ffff"/>
<path d="M1383,244.2H1416" stroke="#00ff00"/>
<path d="M1383,269H1416" stroke="#fa8072"/>
</g>
<text x="1428.3" y="151">parDepol_raman_355</text>
<text x="1428.3" y="175.8">parDepol_raman_532</text>
<text x="1428.3" y="200.6">parDepol_raman_1064</text>
<text x="1428.3" y="225.4">parDepol_klett_355</text>
<text x="1428.3" y="250.2">parDepol_klett_532</text>
<text x="1428.3" y="275">parDepol_klett_1064</text>

<rect x="1817" y="132" width="110" height="29" rx="3" fill="#fff" fill-opacity="0.8" stroke="#cccccc" stroke-width="1"/>
<path d="M1820.8,145H1854" stroke="#0000ff" stroke-width="2"/>
<text x="1866.7" y="151">WVMR</text>
<rect x="1824" y="185" width="81" height="29" rx="3" fill="#fff" fill-opacity="0.8" stroke="#cccccc" stroke-width="1"/>
<path d="M1828,199H1861.7" stroke="#008000" stroke-width="2"/>
<text x="1875" y="205">RH</text>
</g>

<!-- eta box -->
<rect x="1493" y="328" width="107" height="74" fill="#eff0f4"/>
<g font-size="15.3">
<text x="1499" y="347"><tspan class="sans" font-style="italic">η</tspan><tspan class="sans" font-size="10.7" dy="3">355</tspan><tspan dy="-3">: 106.18</tspan></text>
<text x="1499" y="369.5"><tspan class="sans" font-style="italic">η</tspan><tspan class="sans" font-size="10.7" dy="3">532</tspan><tspan dy="-3">: 11.27</tspan></text>
<text x="1499" y="392"><tspan class="sans" font-style="italic">η</tspan><tspan class="sans" font-size="10.7" dy="3">1064</tspan><tspan dy="-3">: 0.82</tspan></text>
</g>

<!-- bottom boxes -->
<rect x="196" y="1276" width="211" height="75" fill="#eff0f4"/>
<g font-size="15.3">
<text x="200.5" y="1295.5">ref.H_355: nan-nan km</text>
<text x="200.5" y="1314.5">ref.H_532: 2.71-4.20 km</text>
<text x="200.5" y="1334">ref.H_1064: 4.49-5.99 km</text>
</g>
<rect x="1696.7" y="1274" width="165" height="28" fill="#eff0f4"/>
<text x="1702" y="1292" font-size="15.3">WV-calib.const.: 6.1</text>

<text x="1002.8" y="1327.7" font-size="12.5" font-weight="bold" style="fill:#ff3a3a">Preliminary</text>
<text x="1002.8" y="1342.7" font-size="12.5" font-weight="bold" style="fill:#ff3a3a">Results.</text>
<text x="1500.8" y="1332.3" font-size="10" font-weight="bold">© TROPOS 2025.</text>
<text x="1500.8" y="1344.3" font-size="10" font-weight="bold">CC BY SA 4.0 License.</text>

<!-- CC badge -->
<g>
<rect x="665.5" y="1297" width="152.5" height="55" fill="#abb1aa" stroke="#000" stroke-width="1"/>
<rect x="666" y="1337" width="151.5" height="14.5" fill="#333"/>
<text x="743.5" y="1349" font-size="11" font-weight="bold" text-anchor="middle" class="sans" style="fill:#fff">BY</text>
<text x="781" y="1349" font-size="11" font-weight="bold" text-anchor="middle" class="sans" style="fill:#fff">SA</text>
<circle cx="689" cy="1322" r="19" fill="#fff" stroke="#000" stroke-width="3.5"/>
<text x="689" y="1328.5" font-size="18" font-weight="bold" text-anchor="middle" class="sans">cc</text>
<circle cx="744" cy="1317" r="13" fill="#fff" stroke="#000" stroke-width="2.5"/>
<circle cx="744" cy="1309.5" r="2.6" fill="#000"/>
<rect x="740" y="1313" width="8" height="7.5" rx="1.5" fill="#000"/>
<rect x="742" y="1319" width="4" height="7" fill="#000"/>
<circle cx="781.5" cy="1317" r="13" fill="#fff" stroke="#000" stroke-width="2.5"/>
<path d="M776,1315 A6,6 0 1 1 777.5,1321.5" fill="none" stroke="#000" stroke-width="2.6"/>
<path d="M772.5,1313 L779.5,1313 L776,1318.5 Z" fill="#000"/>
</g>
</svg>
</body></html>
